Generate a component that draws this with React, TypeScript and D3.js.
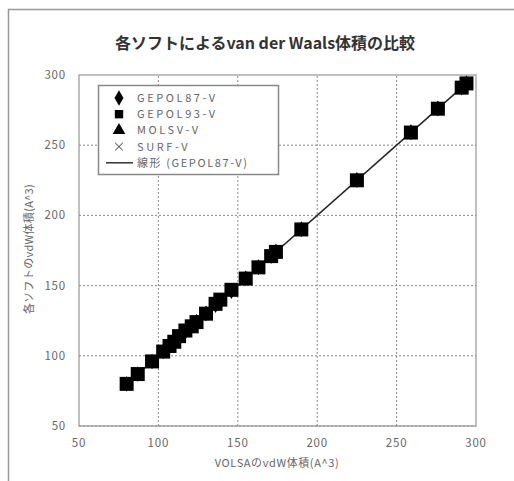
import { useEffect, useRef } from "react";
import * as d3 from "d3";

// VOLSA values (x) and each program's vdW volume (y)
const volsa = [80, 87, 96, 103, 107, 110, 113, 117, 121, 124, 130, 136, 139, 146, 155, 163, 171, 174, 190, 225, 259, 276, 291, 294];
const gepol87 = [80, 87, 96, 103, 107, 110, 113, 117, 121, 124, 130, 136, 139, 146, 155, 163, 171, 174, 190, 225, 259, 276, 291, 294];
const gepol93 = [80, 87, 96, 103, 107, 110, 114, 118, 121, 124, 130, 137, 140, 147, 155, 163, 171, 174, 190, 225, 259, 276, 291, 294];
const molsv = [80, 87, 96, 103, 107, 111, 114, 118, 122, 125, 131, 137, 140, 147, 156, 164, 172, 175, 191, 226, 260, 277, 292, 295];
const surf = [80, 87, 96, 103, 107, 110, 113, 117, 121, 124, 130, 136, 139, 146, 155, 163, 171, 174, 190, 225, 259, 276, 291, 294];

const ticks = [50, 100, 150, 200, 250, 300];
const legendNames = ["GEPOL87-V", "GEPOL93-V", "MOLSV-V", "SURF-V", "線形 (GEPOL87-V)"];

export default function App() {
  const ref = useRef<SVGSVGElement>(null);

  useEffect(() => {
    const svg = d3.select(ref.current);
    svg.selectAll("*").remove();
    const font = "'Noto Sans CJK JP', 'DejaVu Sans', sans-serif";

    svg.append("rect").attr("width", 514).attr("height", 481).attr("fill", "white");
    svg
      .append("rect")
      .attr("x", 8.5)
      .attr("y", 9.5)
      .attr("width", 520)
      .attr("height", 490)
      .attr("fill", "white")
      .attr("stroke", "#999")
      .attr("stroke-width", 1.5);

    svg
      .append("text")
      .text("各ソフトによるvan der Waals体積の比較")
      .attr("x", 265)
      .attr("y", 49)
      .attr("text-anchor", "middle")
      .style("font-family", font)
      .style("font-size", "16px")
      .style("font-weight", "bold")
      .style("fill", "#333");

    const x = d3.scaleLinear().domain([50, 300]).range([79, 476]);
    const y = d3.scaleLinear().domain([50, 300]).range([426, 75]);

    // plot area border
    svg
      .append("rect")
      .attr("x", x(50))
      .attr("y", y(300))
      .attr("width", x(300) - x(50))
      .attr("height", y(50) - y(300))
      .attr("fill", "white")
      .attr("stroke", "#aaa")
      .attr("stroke-width", 1.5);

    const grid = svg.append("g").attr("stroke", "#888").attr("stroke-dasharray", "2,2");
    ticks.forEach((t) => {
      if (t !== 300) {
        grid.append("line").attr("x1", x(50)).attr("x2", x(300)).attr("y1", y(t)).attr("y2", y(t));
      }
      if (t !== 50 && t !== 300) {
        grid.append("line").attr("x1", x(t)).attr("x2", x(t)).attr("y1", y(50)).attr("y2", y(300));
      }
    });

    const tickStyle = (s: d3.Selection<SVGTextElement, number, SVGGElement, unknown>) =>
      s
        .style("font-family", font)
        .style("font-size", "11.5px")
        .style("letter-spacing", "0.8px")
        .style("fill", "#666");

    svg
      .append("g")
      .selectAll("text")
      .data(ticks)
      .enter()
      .append("text")
      .attr("x", 66)
      .attr("y", (d) => y(d) + 4)
      .attr("text-anchor", "end")
      .text((d) => d)
      .call(tickStyle as any);

    svg
      .append("g")
      .selectAll("text")
      .data(ticks)
      .enter()
      .append("text")
      .attr("x", (d) => x(d))
      .attr("y", 447)
      .attr("text-anchor", "middle")
      .text((d) => d)
      .call(tickStyle as any);

    svg
      .append("text")
      .text("VOLSAのvdW体積(A^3)")
      .attr("x", 277)
      .attr("y", 467)
      .attr("text-anchor", "middle")
      .style("font-family", font)
      .style("font-size", "11px")
      .style("letter-spacing", "0.6px")
      .style("fill", "#666");

    svg
      .append("text")
      .text("各ソフトのvdW体積(A^3)")
      .attr("transform", `translate(33,249) rotate(-90)`)
      .attr("text-anchor", "middle")
      .style("font-family", font)
      .style("font-size", "11px")
      .style("letter-spacing", "0.3px")
      .style("fill", "#666");

    // linear trend of GEPOL87-V
    const mx = d3.mean(volsa)!;
    const my = d3.mean(gepol87)!;
    const slope =
      d3.sum(volsa.map((v, i) => (v - mx) * (gepol87[i] - my))) / d3.sum(volsa.map((v) => (v - mx) ** 2));
    const icpt = my - slope * mx;
    const xMin = d3.min(volsa)!;
    const xMax = d3.max(volsa)!;
    svg
      .append("line")
      .attr("x1", x(xMin))
      .attr("y1", y(icpt + slope * xMin))
      .attr("x2", x(xMax))
      .attr("y2", y(icpt + slope * xMax))
      .attr("stroke", "#222")
      .attr("stroke-width", 1.5);

    const symbols = [d3.symbolDiamond, d3.symbolSquare, d3.symbolTriangle, d3.symbolX];
    const sizes = [70, 196, 60, 40];
    const series = [gepol87, molsv, surf, gepol93];
    const symIdx = [0, 2, 3, 1];
    series.forEach((vals, k) => {
      const si = symIdx[k];
      const sym = d3.symbol().type(symbols[si]).size(sizes[si]);
      svg
        .append("g")
        .selectAll("path")
        .data(vals)
        .enter()
        .append("path")
        .attr("d", sym)
        .attr("transform", (d, i) => `translate(${x(volsa[i])},${y(d)})`)
        .attr("fill", si === 3 ? "none" : "black")
        .attr("stroke", si === 3 ? "black" : "none");
    });

    // legend
    const lg = svg.append("g");
    lg.append("rect")
      .attr("x", 98.5)
      .attr("y", 85.5)
      .attr("width", 180)
      .attr("height", 89)
      .attr("fill", "white")
      .attr("stroke", "#888")
      .attr("stroke-width", 1.5);
    legendNames.forEach((name, i) => {
      const cy = 98 + i * 16.2;
      if (i < 4) {
        lg.append("path")
          .attr("d", d3.symbol().type(symbols[i]).size(i === 3 ? 40 : 70)())
          .attr("transform", `translate(119,${cy})`)
          .attr("fill", i === 3 ? "none" : "black")
          .attr("stroke", i === 3 ? "#333" : "none");
      } else {
        lg.append("line")
          .attr("x1", 106)
          .attr("x2", 133)
          .attr("y1", cy)
          .attr("y2", cy)
          .attr("stroke", "#333")
          .attr("stroke-width", 1.5);
      }
      lg.append("text")
        .attr("x", 137)
        .attr("y", cy + 4)
        .text(name)
        .style("font-family", font)
        .style("font-size", "11px")
        .style("letter-spacing", i === 4 ? "1.6px" : "2.6px")
        .style("fill", "#666");
    });
  }, []);

  return (
    <svg
      ref={ref}
      width={514}
      height={481}
      style={{ position: "fixed", left: 0, top: 0 }}
    ></svg>
  );
}
